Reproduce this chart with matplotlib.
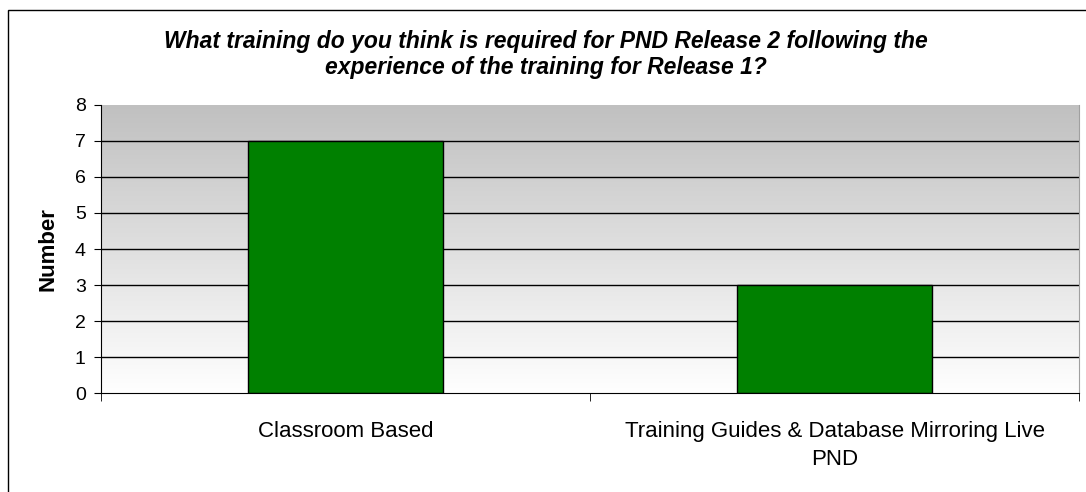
import matplotlib.pyplot as plt
import numpy as np
from matplotlib.colors import LinearSegmentedColormap
from matplotlib.patches import Rectangle

categories = ["Classroom Based", "Training Guides & Database Mirroring Live\nPND"]
counts = [7, 3]
y_ticks = [0, 1, 2, 3, 4, 5, 6, 7, 8]
title = "What training do you think is required for PND Release 2 following the\nexperience of the training for Release 1?"

plt.rcParams["font.family"] = ["Liberation Sans", "DejaVu Sans"]

fig = plt.figure(figsize=(10.86, 4.92), dpi=100)
ax = fig.add_axes([0.093, 0.2012, 0.9006, 0.5854])

# outer chart border (runs off the right and bottom edges)
fig.patches.append(Rectangle((8 / 1086, -5 / 492), 1090 / 1086, 487 / 492,
                             transform=fig.transFigure, fill=False,
                             edgecolor="black", linewidth=1.0))

x = np.arange(len(categories))
ax.set_xlim(-0.5, len(categories) - 0.5)
ax.set_ylim(0, 8)

# grey-to-white backdrop, grey at the top
grad = np.linspace(0, 1, 256).reshape(-1, 1)
bg = LinearSegmentedColormap.from_list("bg", ["#c0c0c0", "#ffffff"])
ax.imshow(grad, cmap=bg, aspect="auto",
          extent=[-0.5, len(categories) - 0.5, 0, 8], zorder=0)

for yv in y_ticks[1:-1]:
    ax.axhline(yv, color="black", linewidth=1.0, zorder=1)

ax.bar(x, counts, width=0.4, color="#008000", edgecolor="black", linewidth=1.0, zorder=2)

ax.set_yticks(y_ticks)
ax.tick_params(axis="y", direction="out", length=5, labelsize=14, pad=6)
ax.set_xticks(x)
ax.set_xticklabels(categories, fontsize=16)
ax.tick_params(axis="x", which="major", length=0, pad=20)
ax.set_xticks([-0.5, 0.5, 1.5], minor=True)
ax.tick_params(axis="x", which="minor", direction="out", length=6)
for lbl in ax.get_xticklabels():
    lbl.set_linespacing(1.45)

ax.spines["top"].set_visible(False)
ax.spines["right"].set_color("#a0a0a0")

ax.set_ylabel("Number", fontsize=16, fontweight="bold", labelpad=12)
fig.text(0.503, 0.889, title, ha="center", va="center", fontsize=16.5,
         fontweight="bold", fontstyle="italic", linespacing=1.15)

fig.savefig("out.png", dpi=100)
